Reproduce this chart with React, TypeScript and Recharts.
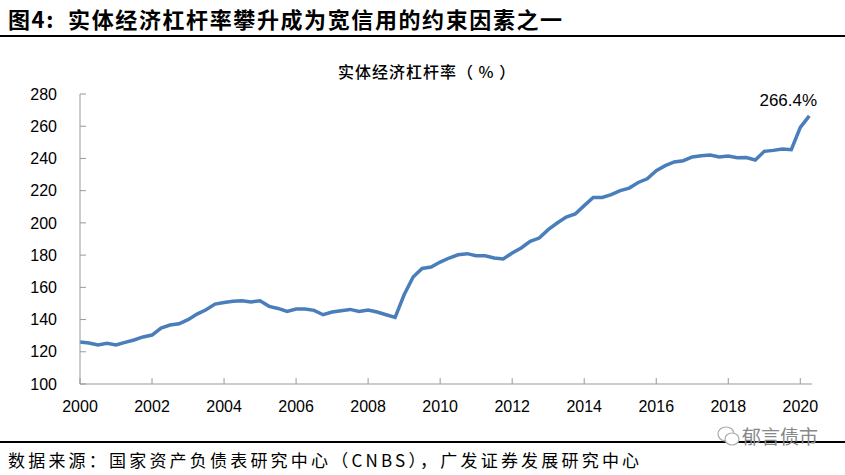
import React from "react";
import { LineChart, Line, XAxis, YAxis, LabelList } from "recharts";

// 实体经济杠杆率, quarterly 2000Q1 - 2020Q2 (%)
const startYear = 2000;
const leverage = [
  126.1, 125.4, 124.2, 125.2, 124.2, 125.8, 127.3, 129.2,
  130.4, 134.7, 136.6, 137.4, 139.9, 143.4, 146.1, 149.6,
  150.6, 151.3, 151.7, 150.9, 151.7, 148.2, 146.9, 145.0,
  146.5, 146.5, 145.7, 143.0, 144.7, 145.5, 146.3, 145.0,
  145.9, 144.7, 143.0, 141.3, 155.4, 166.4, 171.7, 172.6,
  175.7, 178.2, 180.2, 180.9, 179.6, 179.6, 178.2, 177.6,
  181.3, 184.4, 188.5, 190.6, 195.8, 199.9, 203.6, 205.5,
  210.7, 215.8, 215.8, 217.5, 220.0, 221.6, 225.1, 227.4,
  232.4, 235.5, 237.8, 238.6, 240.9, 241.7, 242.1, 240.9,
  241.5, 240.5, 240.6, 239.0, 244.4, 245.0, 245.9, 245.4,
  259.3, 266.4,
];
const yearTicks = [2000, 2002, 2004, 2006, 2008, 2010, 2012, 2014, 2016, 2018, 2020];
const valueTicks = [100, 120, 140, 160, 180, 200, 220, 240, 260, 280];

const data = leverage.map((v, i) => ({ t: startYear + i / 4, v }));

const CJK = '"Noto Sans CJK SC", "Liberation Sans", sans-serif';
const NUM = '"Liberation Sans", Arial, sans-serif';

const lastLabel = (props: any) => {
  const { x, y, index, value } = props;
  if (index !== leverage.length - 1) return null;
  return (
    <text x={x - 21} y={y - 10} textAnchor="middle" fontSize={17} fontFamily={NUM} fill="#000">
      {value}%
    </text>
  );
};

export default function App() {
  return (
    <div
      style={{
        position: "absolute",
        left: 0,
        top: 0,
        width: 845,
        height: 475,
        background: "#fff",
        overflow: "hidden",
      }}
    >
      <div
        style={{
          position: "absolute",
          left: 8,
          top: 4,
          fontFamily: CJK,
          fontWeight: 700,
          fontSize: 22,
          letterSpacing: 1.6,
          lineHeight: "28px",
          color: "#000",
          whiteSpace: "nowrap",
        }}
      >
        图4:&nbsp;&nbsp;实体经济杠杆率攀升成为宽信用的约束因素之一
      </div>
      <div style={{ position: "absolute", left: 0, top: 35, width: 845, height: 2, background: "#000" }} />

      <div
        style={{
          position: "absolute",
          left: 338,
          top: 60,
          fontFamily: CJK,
          fontWeight: 500,
          fontSize: 16,
          letterSpacing: 1,
          lineHeight: "22px",
          color: "#000",
          whiteSpace: "pre",
        }}
      >
        实体经济杠杆率（ % ）
      </div>

      <div style={{ position: "absolute", left: 0, top: 0 }}>
        <LineChart width={845} height={430} data={data} margin={{ top: 94, right: 33, bottom: 0, left: 0 }}>
          <XAxis
            dataKey="t"
            type="number"
            domain={[2000, 2020.325]}
            ticks={yearTicks}
            interval={0}
            height={46}
            tickSize={-6}
            tickMargin={23}
            axisLine={{ stroke: "#999", strokeWidth: 1 }}
            tickLine={{ stroke: "#999", strokeWidth: 1 }}
            tick={{ fill: "#000", fontSize: 16, fontFamily: NUM }}
          />
          <YAxis
            type="number"
            domain={[100, 280]}
            ticks={valueTicks}
            interval={0}
            width={80}
            tickSize={-6}
            tickMargin={29}
            axisLine={{ stroke: "#999", strokeWidth: 1 }}
            tickLine={{ stroke: "#999", strokeWidth: 1 }}
            tick={{ fill: "#000", fontSize: 16, fontFamily: NUM }}
          />
          <Line
            type="linear"
            dataKey="v"
            stroke="#4a7ebb"
            strokeWidth={3.5}
            dot={false}
            isAnimationActive={false}
          >
            <LabelList dataKey="v" content={lastLabel} />
          </Line>
        </LineChart>
      </div>

      <div style={{ position: "absolute", left: 0, top: 441, width: 845, height: 2, background: "#000" }} />
      <svg style={{ position: "absolute", left: 716, top: 424 }} width={26} height={24}>
        <ellipse cx={10} cy={10} rx={8} ry={7} fill="none" stroke="#aaa" strokeWidth={1.2} />
        <ellipse cx={16} cy={15} rx={7} ry={6} fill="#fff" stroke="#aaa" strokeWidth={1.2} />
      </svg>
      <div
        style={{
          position: "absolute",
          left: 742,
          top: 424,
          fontFamily: CJK,
          fontSize: 19,
          lineHeight: "24px",
          color: "#888",
          whiteSpace: "nowrap",
        }}
      >
        郁言债市
      </div>

      <div
        style={{
          position: "absolute",
          left: 8,
          top: 449,
          fontFamily: CJK,
          fontSize: 17,
          letterSpacing: 3.2,
          lineHeight: "22px",
          color: "#000",
          whiteSpace: "nowrap",
        }}
      >
        数据来源：国家资产负债表研究中心（CNBS），广发证券发展研究中心
      </div>
    </div>
  );
}
